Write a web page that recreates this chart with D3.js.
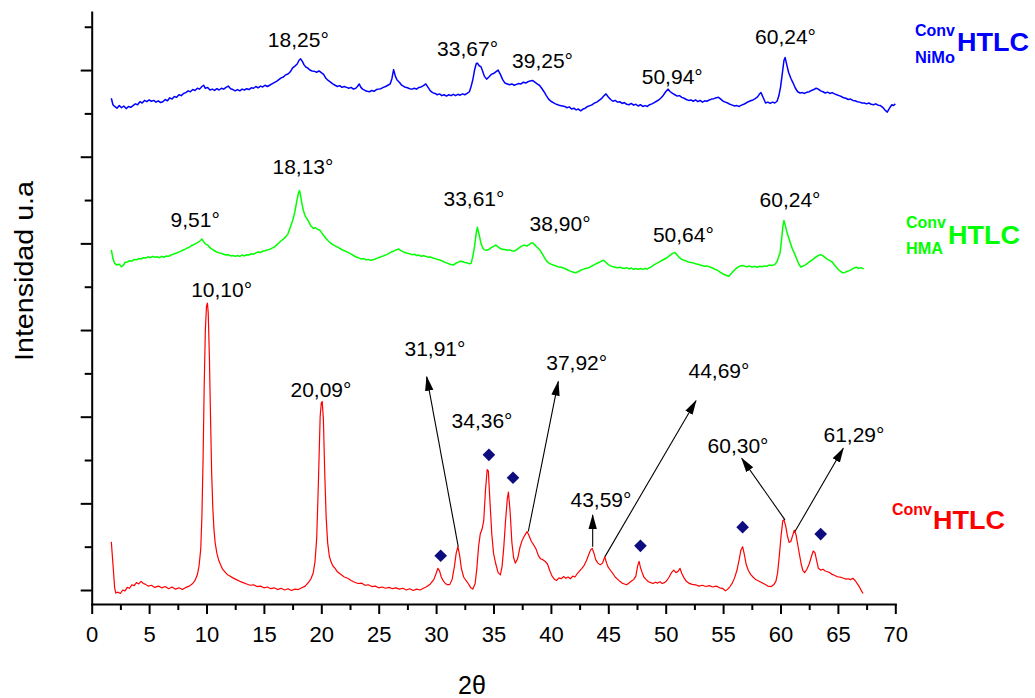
<!DOCTYPE html>
<html>
<head>
<meta charset="utf-8">
<script src="https://cdn.jsdelivr.net/npm/d3@7"></script>
<style>
  html, body { margin: 0; padding: 0; background: #fff; }
  svg { display: block; font-family: "Liberation Sans", Arial, Helvetica, sans-serif; }
</style>
</head>
<body>
<svg id="chart" width="1035" height="698"></svg>
<script>
// Diffractograms (2θ in degrees, intensity in arbitrary units, traces stacked)
const htlc = [[1.71,111],[1.85,60],[2.0,5],[2.1,-7],[2.3,-5],[2.5,-8],[2.7,0],[2.9,-2],[3.1,6],[3.3,4],[3.5,12],[3.7,10],[3.9,17],[4.1,14],[4.3,20],[4.5,15],[4.7,13],[4.9,9],[5.2,11],[5.5,6],[5.8,9],[6.1,5],[6.4,8],[6.7,3],[7.0,7],[7.3,2],[7.6,5],[7.9,1],[8.2,6],[8.5,9],[8.8,15],[9.0,22],[9.2,35],[9.35,55],[9.5,95],[9.6,170],[9.7,300],[9.8,470],[9.9,600],[10.0,655],[10.08,662],[10.15,640],[10.25,540],[10.35,400],[10.45,270],[10.55,190],[10.65,140],[10.75,110],[10.9,85],[11.05,70],[11.2,60],[11.4,48],[11.6,42],[11.8,36],[12.0,33],[12.3,28],[12.6,24],[12.9,20],[13.2,17],[13.5,14],[13.8,11],[14.1,12],[14.4,8],[14.7,9],[15.0,5],[15.3,7],[15.6,3],[15.9,5],[16.2,1],[16.5,4],[16.8,0],[17.1,3],[17.4,-1],[17.7,2],[18.0,1],[18.3,5],[18.6,9],[18.9,18],[19.1,26],[19.3,40],[19.45,65],[19.6,120],[19.75,250],[19.9,400],[20.0,432],[20.08,435],[20.18,395],[20.3,270],[20.42,170],[20.55,110],[20.7,78],[20.85,65],[21.0,56],[21.2,50],[21.4,42],[21.6,38],[21.8,34],[22.0,30],[22.3,27],[22.6,22],[22.9,18],[23.2,15],[23.5,16],[23.8,11],[24.1,12],[24.4,8],[24.7,9],[25.0,5],[25.3,7],[25.6,4],[25.9,6],[26.2,3],[26.5,5],[26.8,2],[27.1,4],[27.4,0],[27.7,3],[28.0,-1],[28.3,2],[28.6,0],[28.9,4],[29.2,8],[29.5,14],[29.8,24],[30.0,38],[30.15,50],[30.3,44],[30.45,30],[30.6,22],[30.8,15],[31.0,12],[31.2,13],[31.4,25],[31.6,55],[31.75,85],[31.9,100],[32.05,80],[32.2,50],[32.4,30],[32.6,22],[32.8,15],[33.0,6],[33.2,2],[33.4,15],[33.55,50],[33.7,100],[33.85,130],[34.0,140],[34.15,160],[34.3,230],[34.45,278],[34.55,275],[34.7,200],[34.85,130],[35.0,85],[35.2,60],[35.4,40],[35.6,35],[35.75,55],[35.9,100],[36.05,160],[36.2,210],[36.3,226],[36.45,180],[36.6,110],[36.75,75],[36.9,62],[37.1,72],[37.3,98],[37.5,115],[37.7,125],[37.92,135],[38.1,125],[38.3,112],[38.5,104],[38.7,95],[38.9,80],[39.1,72],[39.3,70],[39.5,66],[39.7,60],[39.9,45],[40.1,32],[40.3,25],[40.5,22],[40.7,28],[40.9,26],[41.1,31],[41.3,27],[41.5,30],[41.7,26],[41.9,32],[42.1,30],[42.3,38],[42.5,44],[42.7,50],[42.9,57],[43.1,68],[43.3,82],[43.45,92],[43.6,96],[43.75,85],[43.9,70],[44.1,62],[44.3,58],[44.5,62],[44.69,77],[44.85,62],[45.0,52],[45.2,45],[45.4,38],[45.6,30],[45.8,25],[46.0,20],[46.2,16],[46.4,14],[46.6,12],[46.8,16],[47.0,20],[47.2,24],[47.4,32],[47.55,55],[47.68,66],[47.8,52],[47.95,40],[48.1,30],[48.3,24],[48.5,19],[48.7,17],[48.9,15],[49.1,18],[49.3,16],[49.5,19],[49.7,15],[49.9,17],[50.1,22],[50.3,30],[50.5,40],[50.7,46],[50.9,40],[51.1,44],[51.25,50],[51.4,38],[51.6,28],[51.8,20],[52.0,16],[52.3,13],[52.6,12],[52.9,9],[53.2,11],[53.5,8],[53.8,10],[54.1,7],[54.4,9],[54.7,5],[55.0,3],[55.2,-2],[55.4,2],[55.6,8],[55.8,16],[56.0,28],[56.2,45],[56.4,70],[56.55,92],[56.7,100],[56.85,82],[57.0,60],[57.2,45],[57.4,36],[57.6,30],[57.8,25],[58.0,22],[58.3,18],[58.6,14],[58.9,9],[59.2,8],[59.4,12],[59.6,20],[59.75,40],[59.9,80],[60.05,125],[60.2,160],[60.3,162],[60.45,148],[60.6,125],[60.75,110],[60.9,112],[61.05,125],[61.2,138],[61.35,128],[61.5,105],[61.65,82],[61.8,60],[61.95,45],[62.1,40],[62.3,48],[62.5,60],[62.7,78],[62.85,90],[63.0,86],[63.15,68],[63.3,50],[63.5,46],[63.7,48],[63.9,44],[64.1,42],[64.3,40],[64.5,36],[64.7,34],[64.9,31],[65.1,30],[65.3,29],[65.5,27],[65.7,25],[65.9,26],[66.1,24],[66.3,27],[66.5,22],[66.7,14],[66.9,6],[67.05,-2],[67.2,-8]];

const htlcHMA = [[1.71,785],[1.85,765],[2.0,754],[2.2,750],[2.4,752],[2.6,746],[2.8,751],[2.9,756],[3.1,757],[3.3,760],[3.5,759],[3.7,763],[3.9,762],[4.1,765],[4.3,764],[4.5,767],[4.7,766],[4.9,769],[5.1,767],[5.3,770],[5.5,768],[5.7,769],[5.9,767],[6.1,770],[6.3,768],[6.5,771],[6.7,770],[6.9,773],[7.1,775],[7.3,777],[7.5,779],[7.7,781],[7.9,784],[8.1,786],[8.3,789],[8.5,791],[8.7,795],[8.9,797],[9.1,800],[9.3,803],[9.45,806],[9.6,810],[9.75,804],[9.9,799],[10.1,796],[10.3,790],[10.5,786],[10.7,783],[10.9,780],[11.1,778],[11.3,777],[11.5,775],[11.7,773],[11.9,774],[12.1,771],[12.3,772],[12.5,770],[12.7,772],[12.9,770],[13.1,773],[13.3,771],[13.5,774],[13.7,773],[13.9,776],[14.1,775],[14.3,778],[14.5,780],[14.7,779],[14.9,782],[15.1,783],[15.3,785],[15.5,786],[15.7,789],[15.9,791],[16.1,796],[16.3,801],[16.5,806],[16.7,810],[16.9,815],[17.1,822],[17.3,837],[17.5,852],[17.7,873],[17.85,895],[18.0,915],[18.1,922],[18.2,910],[18.3,893],[18.45,875],[18.6,863],[18.75,857],[18.9,850],[19.1,840],[19.3,835],[19.5,836],[19.7,832],[19.85,831],[20.0,826],[20.2,818],[20.4,812],[20.6,806],[20.8,801],[21.0,797],[21.3,793],[21.5,790],[21.7,787],[21.9,784],[22.2,781],[22.4,778],[22.6,775],[22.8,772],[23.0,769],[23.3,766],[23.5,764],[23.7,765],[23.9,762],[24.1,763],[24.3,761],[24.5,762],[24.7,764],[24.9,766],[25.1,768],[25.3,770],[25.5,772],[25.7,774],[25.9,777],[26.1,780],[26.3,782],[26.5,785],[26.75,787],[26.9,784],[27.1,781],[27.3,779],[27.5,777],[27.7,776],[27.9,774],[28.1,775],[28.3,772],[28.5,773],[28.7,770],[28.9,772],[29.1,770],[29.3,768],[29.5,769],[29.7,766],[29.9,765],[30.1,763],[30.3,762],[30.5,760],[30.7,757],[30.9,755],[31.1,753],[31.3,751],[31.5,750],[31.7,754],[31.9,756],[32.1,759],[32.3,758],[32.5,756],[32.7,755],[32.9,753],[33.05,754],[33.2,770],[33.35,793],[33.5,825],[33.6,837],[33.75,820],[33.9,801],[34.05,790],[34.2,785],[34.4,784],[34.6,786],[34.8,790],[35.0,793],[35.2,796],[35.4,792],[35.6,788],[35.8,786],[36.0,786],[36.2,784],[36.4,785],[36.6,783],[36.8,782],[37.0,785],[37.2,789],[37.4,793],[37.65,796],[37.9,794],[38.1,797],[38.3,801],[38.45,801],[38.6,796],[38.8,791],[39.0,786],[39.2,778],[39.4,769],[39.6,760],[39.8,755],[40.0,752],[40.2,750],[40.4,748],[40.6,746],[40.9,745],[41.1,743],[41.3,741],[41.5,738],[41.7,736],[41.9,734],[42.15,732],[42.4,735],[42.6,738],[42.8,740],[43.0,742],[43.2,743],[43.4,745],[43.6,748],[43.8,751],[44.0,754],[44.2,756],[44.4,759],[44.6,761],[44.8,756],[45.0,751],[45.2,748],[45.4,746],[45.6,745],[45.8,744],[46.0,745],[46.2,743],[46.4,742],[46.6,744],[46.8,741],[47.0,743],[47.2,740],[47.4,742],[47.6,740],[47.8,742],[48.0,740],[48.2,742],[48.4,741],[48.6,744],[48.8,747],[49.0,751],[49.3,755],[49.5,758],[49.7,761],[50.0,765],[50.2,769],[50.4,773],[50.6,777],[50.8,779],[51.0,773],[51.2,767],[51.4,763],[51.6,761],[51.8,759],[52.0,757],[52.2,756],[52.4,755],[52.6,753],[52.8,752],[53.0,750],[53.2,749],[53.4,747],[53.6,748],[53.9,745],[54.1,743],[54.3,740],[54.5,738],[54.7,734],[54.9,731],[55.1,728],[55.3,726],[55.5,724],[55.7,730],[55.9,736],[56.1,741],[56.3,745],[56.5,748],[56.7,749],[56.9,747],[57.1,746],[57.3,748],[57.5,745],[57.7,747],[57.95,745],[58.2,747],[58.4,746],[58.6,748],[58.8,747],[59.0,750],[59.2,749],[59.5,751],[59.7,758],[59.85,770],[59.96,778],[60.1,810],[60.2,838],[60.3,853],[60.45,838],[60.6,822],[60.75,810],[60.9,798],[61.05,786],[61.2,778],[61.4,765],[61.6,752],[61.8,745],[62.0,748],[62.2,751],[62.4,755],[62.6,759],[62.75,761],[62.9,765],[63.1,769],[63.3,772],[63.5,774],[63.7,771],[63.9,767],[64.1,763],[64.3,760],[64.5,757],[64.7,750],[64.9,744],[65.1,738],[65.3,734],[65.4,732],[65.6,733],[65.8,735],[66.0,737],[66.2,740],[66.4,743],[66.6,745],[66.8,742],[67.0,744],[67.25,741]];

const htlcNiMo = [[1.71,1135],[1.85,1120],[2.0,1116],[2.2,1112],[2.4,1118],[2.6,1113],[2.8,1117],[3.0,1111],[3.2,1116],[3.4,1114],[3.6,1118],[3.8,1122],[4.0,1120],[4.2,1127],[4.4,1124],[4.6,1130],[4.8,1127],[5.0,1131],[5.2,1128],[5.4,1130],[5.6,1126],[5.8,1129],[6.0,1125],[6.2,1127],[6.4,1132],[6.6,1129],[6.8,1136],[7.0,1133],[7.2,1139],[7.4,1137],[7.6,1143],[7.8,1141],[8.0,1146],[8.2,1148],[8.4,1152],[8.6,1150],[8.8,1155],[9.0,1153],[9.2,1158],[9.4,1156],[9.6,1162],[9.75,1165],[9.9,1158],[10.1,1160],[10.3,1154],[10.5,1156],[10.7,1153],[10.9,1157],[11.1,1154],[11.3,1158],[11.5,1156],[11.7,1160],[11.9,1163],[12.1,1157],[12.3,1155],[12.5,1152],[12.7,1155],[12.9,1152],[13.1,1156],[13.3,1154],[13.5,1157],[13.7,1155],[13.9,1159],[14.1,1158],[14.3,1162],[14.5,1159],[14.7,1163],[14.9,1161],[15.1,1165],[15.3,1162],[15.5,1165],[15.7,1168],[15.9,1171],[16.1,1174],[16.3,1178],[16.5,1182],[16.7,1184],[16.9,1189],[17.1,1191],[17.3,1196],[17.5,1205],[17.7,1209],[17.9,1214],[18.05,1222],[18.2,1226],[18.35,1220],[18.5,1212],[18.65,1207],[18.8,1205],[19.0,1200],[19.2,1198],[19.4,1197],[19.6,1195],[19.8,1198],[20.0,1194],[20.2,1190],[20.4,1181],[20.6,1176],[20.8,1172],[21.0,1168],[21.2,1165],[21.4,1162],[21.6,1164],[21.8,1160],[22.0,1162],[22.2,1160],[22.4,1158],[22.6,1160],[22.8,1156],[23.0,1158],[23.15,1162],[23.3,1168],[23.45,1160],[23.6,1156],[23.8,1153],[24.0,1151],[24.2,1150],[24.4,1153],[24.6,1151],[24.8,1155],[25.0,1156],[25.2,1157],[25.4,1160],[25.6,1162],[25.8,1165],[26.0,1168],[26.15,1180],[26.3,1201],[26.45,1186],[26.6,1177],[26.8,1172],[27.0,1165],[27.25,1161],[27.5,1159],[27.7,1157],[27.9,1156],[28.1,1158],[28.3,1156],[28.5,1160],[28.7,1161],[28.9,1164],[29.1,1168],[29.3,1160],[29.5,1152],[29.7,1148],[29.9,1146],[30.1,1143],[30.3,1145],[30.5,1141],[30.7,1143],[30.9,1140],[31.1,1143],[31.3,1141],[31.5,1144],[31.7,1141],[31.9,1144],[32.1,1142],[32.3,1145],[32.5,1143],[32.7,1146],[32.9,1150],[33.05,1162],[33.2,1178],[33.35,1200],[33.5,1215],[33.6,1216],[33.75,1210],[33.9,1208],[34.05,1198],[34.2,1186],[34.4,1179],[34.6,1184],[34.8,1190],[35.0,1192],[35.2,1196],[35.4,1200],[35.6,1190],[35.8,1178],[36.0,1170],[36.2,1168],[36.4,1166],[36.6,1168],[36.8,1165],[37.0,1167],[37.2,1169],[37.4,1168],[37.6,1172],[37.8,1170],[38.0,1173],[38.2,1175],[38.4,1176],[38.6,1172],[38.8,1168],[39.0,1165],[39.2,1158],[39.4,1150],[39.6,1141],[39.8,1133],[40.0,1128],[40.2,1125],[40.4,1122],[40.6,1120],[40.8,1118],[41.0,1117],[41.2,1116],[41.4,1113],[41.6,1115],[41.8,1110],[42.0,1112],[42.2,1108],[42.4,1110],[42.6,1106],[42.8,1110],[43.0,1112],[43.2,1116],[43.4,1118],[43.6,1120],[43.8,1124],[44.0,1126],[44.2,1130],[44.4,1134],[44.6,1140],[44.8,1145],[45.0,1138],[45.2,1132],[45.4,1128],[45.6,1130],[45.8,1126],[46.0,1127],[46.2,1123],[46.4,1125],[46.6,1121],[46.8,1120],[47.0,1123],[47.2,1119],[47.4,1121],[47.6,1117],[47.8,1120],[48.0,1116],[48.2,1118],[48.4,1116],[48.6,1120],[48.8,1122],[49.0,1125],[49.2,1128],[49.4,1131],[49.6,1136],[49.8,1142],[50.0,1150],[50.2,1156],[50.4,1150],[50.6,1146],[50.8,1143],[51.0,1140],[51.2,1141],[51.4,1137],[51.6,1135],[51.8,1132],[52.0,1130],[52.2,1131],[52.4,1128],[52.6,1131],[52.8,1127],[53.0,1130],[53.2,1126],[53.4,1129],[53.6,1128],[53.8,1131],[54.0,1133],[54.2,1134],[54.4,1136],[54.6,1137],[54.8,1133],[55.0,1128],[55.2,1126],[55.4,1124],[55.6,1121],[55.8,1119],[56.0,1117],[56.2,1118],[56.4,1116],[56.6,1119],[56.8,1121],[57.0,1124],[57.2,1127],[57.4,1129],[57.6,1131],[57.8,1134],[58.0,1138],[58.15,1144],[58.3,1148],[58.5,1136],[58.7,1124],[58.9,1126],[59.1,1123],[59.3,1126],[59.5,1124],[59.7,1128],[59.85,1140],[60.0,1160],[60.15,1190],[60.3,1222],[60.4,1229],[60.55,1212],[60.7,1195],[60.9,1181],[61.1,1170],[61.3,1158],[61.5,1150],[61.7,1147],[61.9,1148],[62.1,1146],[62.3,1149],[62.5,1150],[62.7,1153],[62.9,1155],[63.1,1158],[63.3,1156],[63.5,1152],[63.7,1150],[63.9,1147],[64.1,1149],[64.3,1146],[64.5,1148],[64.7,1145],[64.9,1143],[65.1,1141],[65.3,1139],[65.5,1136],[65.7,1135],[65.9,1132],[66.1,1133],[66.3,1130],[66.5,1129],[66.7,1127],[66.9,1126],[67.1,1124],[67.3,1124],[67.5,1122],[67.7,1124],[67.9,1121],[68.1,1120],[68.3,1122],[68.5,1119],[68.7,1118],[68.9,1114],[69.1,1108],[69.3,1103],[69.5,1112],[69.7,1120],[69.85,1118],[70.0,1122]];

// Phase markers (◆) over the HTLC pattern
const markers = [[30.4,79],[34.6,312],[36.7,259],[47.8,102],[56.7,145],[63.5,129]];

// Peak annotations: [text, x, y] (anchor of the label)
const labelsNiMo = [["18,25°",18.0,1254],["33,67°",32.74,1233],["39,25°",39.27,1205],["50,94°",50.57,1167],["60,24°",60.44,1259]];
const labelsHMA = [["9,51°",9.02,838],["18,13°",18.4,960],["33,61°",33.3,887],["38,90°",40.8,829],["50,64°",51.54,804],["60,24°",60.83,884]];
const labelsHTLC = [["10,10°",11.32,677],["20,09°",19.97,446],["34,36°",34.0,374],["31,91°",29.9,540],["37,92°",42.25,508],["43,59°",44.36,192],["44,69°",54.64,489],["60,30°",56.3,316],["61,29°",66.4,342]];

// Arrows from a peak to its label: [x0, y0, x1, y1]
const arrows = [[31.93,100,29.18,492],[38.03,135,40.64,481],[43.64,100,43.64,173],[44.71,77,52.64,437],[60.39,162,56.62,304],[61.26,135,65.47,327]];

const xTicksMajor = d3.range(0, 71, 5);
const xTicksMinor = d3.range(2.5, 70, 5);
const yTicksMajor = d3.range(0, 1201, 200);
const yTicksMinor = d3.range(100, 1301, 200);

const svg = d3.select("#chart");
const x = d3.scaleLinear().domain([0, 70]).range([91.7, 895.3]);
const y = d3.scaleLinear().domain([-32.3, 1334]).range([604, 12]);

// Axes
const gx = svg.append("g").attr("transform", "translate(0,604)");
gx.call(d3.axisBottom(x).tickValues(xTicksMinor).tickSize(6).tickSizeOuter(0).tickFormat(""));
gx.call(g => g.select(".domain").remove());
const gx2 = svg.append("g").attr("transform", "translate(0,604)");
gx2.call(d3.axisBottom(x).tickValues(xTicksMajor).tickSize(10).tickSizeOuter(0).tickFormat(d3.format("d")));
gx2.selectAll("text").attr("y", 38).attr("dy", 0).attr("font-size", 22).attr("fill", "#000")
   .attr("font-family", "Liberation Sans, Arial, sans-serif");

const gy = svg.append("g").attr("transform", "translate(91.7,0)");
gy.call(d3.axisLeft(y).tickValues(yTicksMinor).tickSize(7).tickSizeOuter(0).tickFormat(""));
gy.call(g => g.select(".domain").remove());
const gy2 = svg.append("g").attr("transform", "translate(91.7,0)");
gy2.call(d3.axisLeft(y).tickValues(yTicksMajor).tickSize(11).tickSizeOuter(0).tickFormat(""));

svg.selectAll(".domain, .tick line").attr("stroke", "#000").attr("stroke-width", 2);
svg.selectAll(".domain").attr("stroke-linecap", "square");

// Traces
const line = d3.line().x(d => x(d[0])).y(d => y(d[1]));
const series = [
  { data: htlc, color: "#ff0000", width: 1.2 },
  { data: htlcHMA, color: "#00ff00", width: 1.5 },
  { data: htlcNiMo, color: "#0000ff", width: 1.5 }
];
svg.append("g").selectAll("path").data(series).join("path")
  .attr("d", d => line(d.data))
  .attr("fill", "none")
  .attr("stroke", d => d.color)
  .attr("stroke-width", d => d.width)
  .attr("stroke-linejoin", "round");

// Markers
svg.append("g").selectAll("path").data(markers).join("path")
  .attr("d", d3.symbol(d3.symbolSquare, 80))
  .attr("transform", d => `translate(${x(d[0])},${y(d[1])}) rotate(45)`)
  .attr("fill", "#0d0d80");

// Arrowhead
svg.append("defs").append("marker")
  .attr("id", "head").attr("markerUnits", "userSpaceOnUse")
  .attr("markerWidth", 16).attr("markerHeight", 12)
  .attr("refX", 14).attr("refY", 0)
  .attr("viewBox", "0 -6 16 12").attr("orient", "auto")
  .append("path").attr("d", "M0,-4.2L15,0L0,4.2Z").attr("fill", "#000");

svg.append("g").selectAll("line").data(arrows).join("line")
  .attr("x1", d => x(d[0])).attr("y1", d => y(d[1]))
  .attr("x2", d => x(d[2])).attr("y2", d => y(d[3]))
  .attr("stroke", "#000").attr("stroke-width", 1.1)
  .attr("marker-end", "url(#head)");

// Peak labels
svg.append("g").selectAll("text").data([...labelsNiMo, ...labelsHMA, ...labelsHTLC]).join("text")
  .attr("x", d => x(d[1])).attr("y", d => y(d[2]))
  .attr("text-anchor", "middle")
  .attr("font-size", 21)
  .attr("fill", "#000")
  .text(d => d[0]);

// Series names
function seriesName(color, sup, sub, xs, ySup, xMain, yMain, ySub) {
  const g = svg.append("g").attr("fill", color).attr("font-weight", "bold");
  g.append("text").attr("x", xs).attr("y", ySup).attr("font-size", 16)
    .attr("textLength", 40).attr("lengthAdjust", "spacingAndGlyphs").text(sup);
  if (sub) g.append("text").attr("x", xs).attr("y", ySub).attr("font-size", 16)
    .attr("textLength", sub.length > 3 ? 40 : 37).attr("lengthAdjust", "spacingAndGlyphs").text(sub);
  g.append("text").attr("x", xMain).attr("y", yMain).attr("font-size", 25)
    .attr("textLength", 72).attr("lengthAdjust", "spacingAndGlyphs").text("HTLC");
}
seriesName("#0000ff", "Conv", "NiMo", 915, 36, 957, 51, 63);
seriesName("#00ff00", "Conv", "HMA", 906, 228, 948, 244, 254);
seriesName("#ff0000", "Conv", null, 892, 515, 933, 529, 0);

// Axis titles
svg.append("text")
  .attr("transform", "translate(33,271) rotate(-90)")
  .attr("text-anchor", "middle").attr("font-size", 26)
  .attr("textLength", 180).attr("lengthAdjust", "spacingAndGlyphs")
  .text("Intensidad u.a");
svg.append("text")
  .attr("x", 472).attr("y", 694)
  .attr("text-anchor", "middle").attr("font-size", 25)
  .text("2θ");
</script>
</body>
</html>
